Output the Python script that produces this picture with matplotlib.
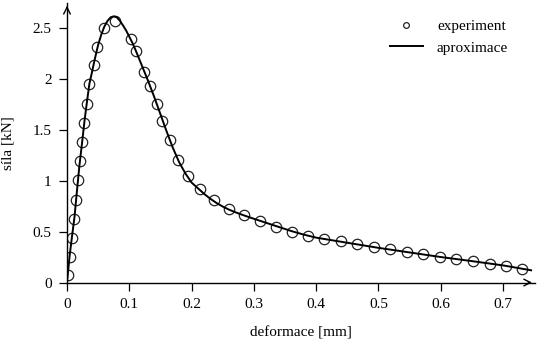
import matplotlib.pyplot as plt

plt.rcParams["font.family"] = ["Liberation Serif", "DejaVu Serif"]

# Data

exp_x = [0.0011, 0.0043, 0.0080, 0.0117, 0.0144, 0.0172, 0.0209, 0.0246,
         0.0273, 0.0316, 0.0358, 0.0429, 0.0486, 0.0594, 0.0766, 0.1022,
         0.1111, 0.1239, 0.1337, 0.1448, 0.1531, 0.1648, 0.1782, 0.1942,
         0.2135, 0.2356, 0.2597, 0.2844, 0.3101, 0.3353, 0.3616, 0.3873,
         0.4133, 0.4398, 0.4663, 0.4921, 0.5186, 0.5453, 0.5719, 0.5987,
         0.6250, 0.6522, 0.6790, 0.7051, 0.7302]
exp_y = [0.074, 0.253, 0.439, 0.623, 0.812, 1.002, 1.191, 1.380,
         1.561, 1.750, 1.946, 2.129, 2.312, 2.493, 2.569, 2.390,
         2.270, 2.064, 1.922, 1.748, 1.588, 1.397, 1.205, 1.041,
         0.914, 0.813, 0.725, 0.662, 0.608, 0.541, 0.492, 0.456,
         0.429, 0.407, 0.378, 0.348, 0.324, 0.297, 0.275, 0.252,
         0.232, 0.208, 0.186, 0.164, 0.132]

fit_x = [0.0, 0.004, 0.008, 0.012, 0.016, 0.020, 0.024, 0.028, 0.032,
         0.036, 0.040, 0.045, 0.050, 0.055, 0.060, 0.065, 0.070, 0.075,
         0.080, 0.085, 0.090, 0.095, 0.100, 0.105, 0.110, 0.120, 0.130,
         0.140, 0.150, 0.160, 0.170, 0.180, 0.190, 0.200, 0.210, 0.220,
         0.230, 0.240, 0.250, 0.260, 0.270, 0.280, 0.300, 0.320, 0.340,
         0.360, 0.380, 0.400, 0.420, 0.440, 0.460, 0.480, 0.500, 0.550,
         0.600, 0.650, 0.700, 0.745]
fit_y = [0.0, 0.25, 0.45, 0.64, 0.90, 1.15, 1.36, 1.58, 1.77,
         1.95, 2.06, 2.20, 2.33, 2.43, 2.51, 2.565, 2.60, 2.61,
         2.60, 2.565, 2.52, 2.47, 2.41, 2.35, 2.28, 2.13, 1.98,
         1.82, 1.65, 1.48, 1.32, 1.18, 1.07, 0.98, 0.925, 0.87,
         0.822, 0.78, 0.745, 0.715, 0.69, 0.667, 0.625, 0.585, 0.545,
         0.505, 0.47, 0.44, 0.42, 0.40, 0.38, 0.36, 0.34, 0.295,
         0.25, 0.21, 0.168, 0.12]

x_ticks = [0, 0.1, 0.2, 0.3, 0.4, 0.5, 0.6, 0.7]
x_tick_labels = ["0", "0.1", "0.2", "0.3", "0.4", "0.5", "0.6", "0.7"]
y_ticks = [0, 0.5, 1, 1.5, 2, 2.5]
y_tick_labels = ["0", "0.5", "1", "1.5", "2", "2.5"]


# Figure

fig = plt.figure(figsize=(5.39, 3.40), dpi=100)

ax = fig.add_axes([0.1243, 0.169, 0.868, 0.822])

ax.plot(exp_x, exp_y, "o", markersize=7.5, markerfacecolor="none",
        markeredgecolor="#222222", markeredgewidth=0.9, label="experiment")

ax.plot(fit_x, fit_y, "-", color="black", linewidth=1.4, label="aproximace")

ax.set_xlim(0, 0.751)
ax.set_ylim(0, 2.74)

ax.set_xticks(x_ticks)
ax.set_xticklabels(x_tick_labels)
ax.set_yticks(y_ticks)
ax.set_yticklabels(y_tick_labels)

ax.tick_params(direction="out", length=6, width=0.9, labelsize=11)
ax.tick_params(axis="x", pad=5)
ax.tick_params(axis="y", pad=5)

ax.spines["top"].set_visible(False)
ax.spines["right"].set_visible(False)
ax.spines["left"].set_linewidth(1.0)
ax.spines["bottom"].set_linewidth(1.0)

# axis arrows
ax.annotate("", xy=(1.0, 0), xytext=(0.98, 0), xycoords="axes fraction",
            arrowprops=dict(arrowstyle="->", color="black", lw=1.0,
                            mutation_scale=12), annotation_clip=False)
ax.annotate("", xy=(0, 1.0), xytext=(0, 0.97), xycoords="axes fraction",
            arrowprops=dict(arrowstyle="->", color="black", lw=1.0,
                            mutation_scale=12), annotation_clip=False)

ax.set_xlabel("deformace [mm]", fontsize=11, labelpad=11)
ax.set_ylabel("síla [kN]", fontsize=11, labelpad=13)

ax.legend(loc="upper left", bbox_to_anchor=(0.66, 0.99), frameon=False,
          fontsize=11, handlelength=2.2, handletextpad=0.9,
          labelspacing=0.5, markerscale=0.55)

fig.savefig("out.png", dpi=100)
